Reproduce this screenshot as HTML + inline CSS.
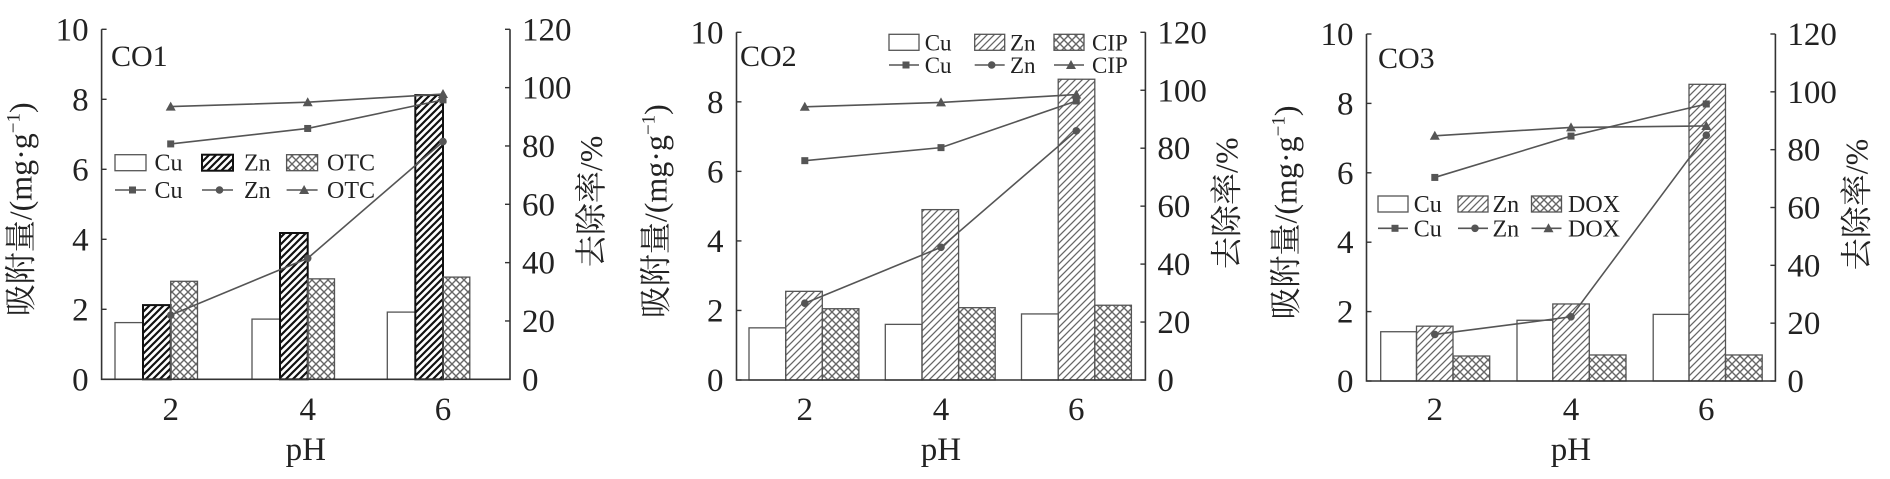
<!DOCTYPE html>
<html><head><meta charset="utf-8"><style>
html,body{margin:0;padding:0;background:#fff;}
svg{display:block;}
text{font-family:"Liberation Serif","Noto Serif CJK SC",serif;fill:#222;}
.cjk{font-family:"Liberation Serif","Noto Serif CJK SC",serif;}
</style></head><body>
<svg id="s" width="1890" height="479" viewBox="0 0 1890 479" xmlns="http://www.w3.org/2000/svg">
<defs>
<pattern id="hb" patternUnits="userSpaceOnUse" width="7" height="7"><path d="M-1,8 L8,-1 M-1,1 L1,-1 M6,8 L8,6" stroke="#111" stroke-width="2.2"/></pattern>
<pattern id="hg" patternUnits="userSpaceOnUse" width="7" height="7"><path d="M-1,8 L8,-1 M-1,1 L1,-1 M6,8 L8,6" stroke="#666" stroke-width="1.3"/></pattern>
<pattern id="xg" patternUnits="userSpaceOnUse" width="8" height="8"><path d="M0,8 L8,0 M0,0 L8,8" stroke="#666" stroke-width="1.4"/></pattern>
</defs>
</svg>
<script>
const S=document.getElementById('s');const NS='http://www.w3.org/2000/svg';
function el(t,a,txt){const e=document.createElementNS(NS,t);for(const k in a)e.setAttribute(k,a[k]);if(txt!==undefined)e.textContent=txt;S.appendChild(e);return e;}
const panels=[
{L:101.6,R:510,T:29.3,B:379.3,cats:[170.7,307.7,443],bars:[[115,143],[143,170.7],[170.7,197.5]],bo:[0,137,272.3],
 vals:[[1.62,1.72,1.92],[2.12,4.18,8.12],[2.8,2.87,2.92]],zn:'url(#hb)',znS:'#111',znW:2,
 lines:[[80.7,86,95.8],[22,41.5,81.5],[93.5,95,97.8]],title:'CO1',tx:111,ty:66,lab:'OTC',
 leg:{y1:162.7,y2:190,bx:[115,202,286.6],bw:31,tx:[154.5,244,327],fs:24}},
{L:736.5,R:1145.4,T:32.3,B:380,cats:[804.8,941,1076.3],bars:[[749,785.7],[785.7,822.3],[822.3,858.9]],bo:[0,136.3,272.5],
 vals:[[1.5,1.6,1.9],[2.55,4.9,8.65],[2.05,2.08,2.15]],zn:'url(#hg)',znS:'#555',znW:1.3,
 lines:[[75.7,80.2,96.3],[26.5,45.8,86],[94.3,95.8,98.5]],title:'CO2',tx:740,ty:66,lab:'CIP',
 leg:{y1:42.3,y2:65,bx:[889,974.7,1054],bw:30,tx:[924.7,1010,1092],fs:23}},
{L:1366.5,R:1775.4,T:34,B:381,cats:[1434.8,1571,1706.3],bars:[[1380.7,1416.5],[1416.5,1453],[1453,1489.7]],bo:[0,136.3,272.5],
 vals:[[1.42,1.75,1.92],[1.58,2.22,8.55],[0.72,0.75,0.75]],zn:'url(#hg)',znS:'#555',znW:1.3,
 lines:[[70.4,84.7,95.8],[16.1,22.2,85],[84.8,87.7,88.2]],title:'CO3',tx:1378,ty:68,lab:'DOX',
 leg:{y1:204,y2:228.3,bx:[1378,1458,1531.5],bw:30,tx:[1413.7,1492.5,1568],fs:24}}
];
const G='#555';
panels.forEach(p=>{
 const H=p.B-p.T, yL=v=>p.B-v/10*H, yR=v=>p.B-v/120*H;
 const fills=['#fff',p.zn,'url(#xg)'];
 for(let s=0;s<3;s++)for(let g=0;g<3;g++){
  const x0=p.bars[s][0]+p.bo[g],x1=p.bars[s][1]+p.bo[g],y=yL(p.vals[s][g]);
  el('rect',{x:x0,y:y,width:x1-x0,height:p.B-y,fill:fills[s],stroke:s==1?p.znS:G,'stroke-width':s==1?p.znW:1.3});
 }
 const mk=['sq','ci','tr'];
 p.lines.forEach((ln,i)=>{
  el('polyline',{points:ln.map((v,j)=>p.cats[j]+','+yR(v)).join(' '),fill:'none',stroke:G,'stroke-width':1.6});
  ln.forEach((v,j)=>marker(mk[i],p.cats[j],yR(v)));
 });
 el('path',{d:`M${p.L},${p.T} V${p.B} H${p.R} V${p.T}`,fill:'none',stroke:'#333','stroke-width':1.6});
 for(let v=0;v<=10;v+=2){const y=yL(v);el('line',{x1:p.L,x2:p.L+5,y1:y,y2:y,stroke:'#333','stroke-width':1.4});
  el('text',{x:p.L-13,y:y+11,'font-size':33,'text-anchor':'end'},String(v));}
 for(let v=0;v<=120;v+=20){const y=yR(v);el('line',{x1:p.R-5,x2:p.R,y1:y,y2:y,stroke:'#333','stroke-width':1.4});
  el('text',{x:p.R+12,y:y+11,'font-size':33},String(v));}
 ['2','4','6'].forEach((t,j)=>el('text',{x:p.cats[j],y:420,'font-size':33,'text-anchor':'middle'},t));
 el('text',{x:(p.L+p.R)/2,y:460,'font-size':33,'text-anchor':'middle'},'pH');
 el('text',{x:p.tx,y:p.ty,'font-size':30},p.title);
 const cy=(p.T+p.B)/2;
 const lx=p.L-70;
 const t1=el('text',{x:lx,y:cy+5,'font-size':32,'text-anchor':'middle',transform:`rotate(-90 ${lx} ${cy+5})`,class:'cjk'});
 t1.innerHTML='吸附量/(mg·g<tspan dy="-12" font-size="19">−1</tspan><tspan dy="12">)</tspan>';
 const rx=p.R+92;
 el('text',{x:rx,y:cy-3,'font-size':32,'text-anchor':'middle',transform:`rotate(-90 ${rx} ${cy-3})`,class:'cjk'},'去除率/%');
 const L=p.leg,names=['Cu','Zn',p.lab];
 for(let i=0;i<3;i++){
  el('rect',{x:L.bx[i],y:L.y1-8,width:L.bw,height:16,fill:fills[i],stroke:i==1?p.znS:G,'stroke-width':i==1?p.znW:1.3});
  el('text',{x:L.tx[i],y:L.y1+8,'font-size':L.fs},names[i]);
  el('line',{x1:L.bx[i],x2:L.bx[i]+L.bw,y1:L.y2,y2:L.y2,stroke:G,'stroke-width':1.6});
  marker(mk[i],L.bx[i]+L.bw/2+2,L.y2);
  el('text',{x:L.tx[i],y:L.y2+8,'font-size':L.fs},names[i]);
 }
});
function marker(t,x,y){
 if(t=='sq')el('rect',{x:x-3.5,y:y-3.5,width:7,height:7,fill:G});
 else if(t=='ci')el('circle',{cx:x,cy:y,r:3.8,fill:G});
 else el('path',{d:`M${x},${y-5} L${x+5},${y+4} L${x-5},${y+4}Z`,fill:G});
}
</script>
</body></html>
